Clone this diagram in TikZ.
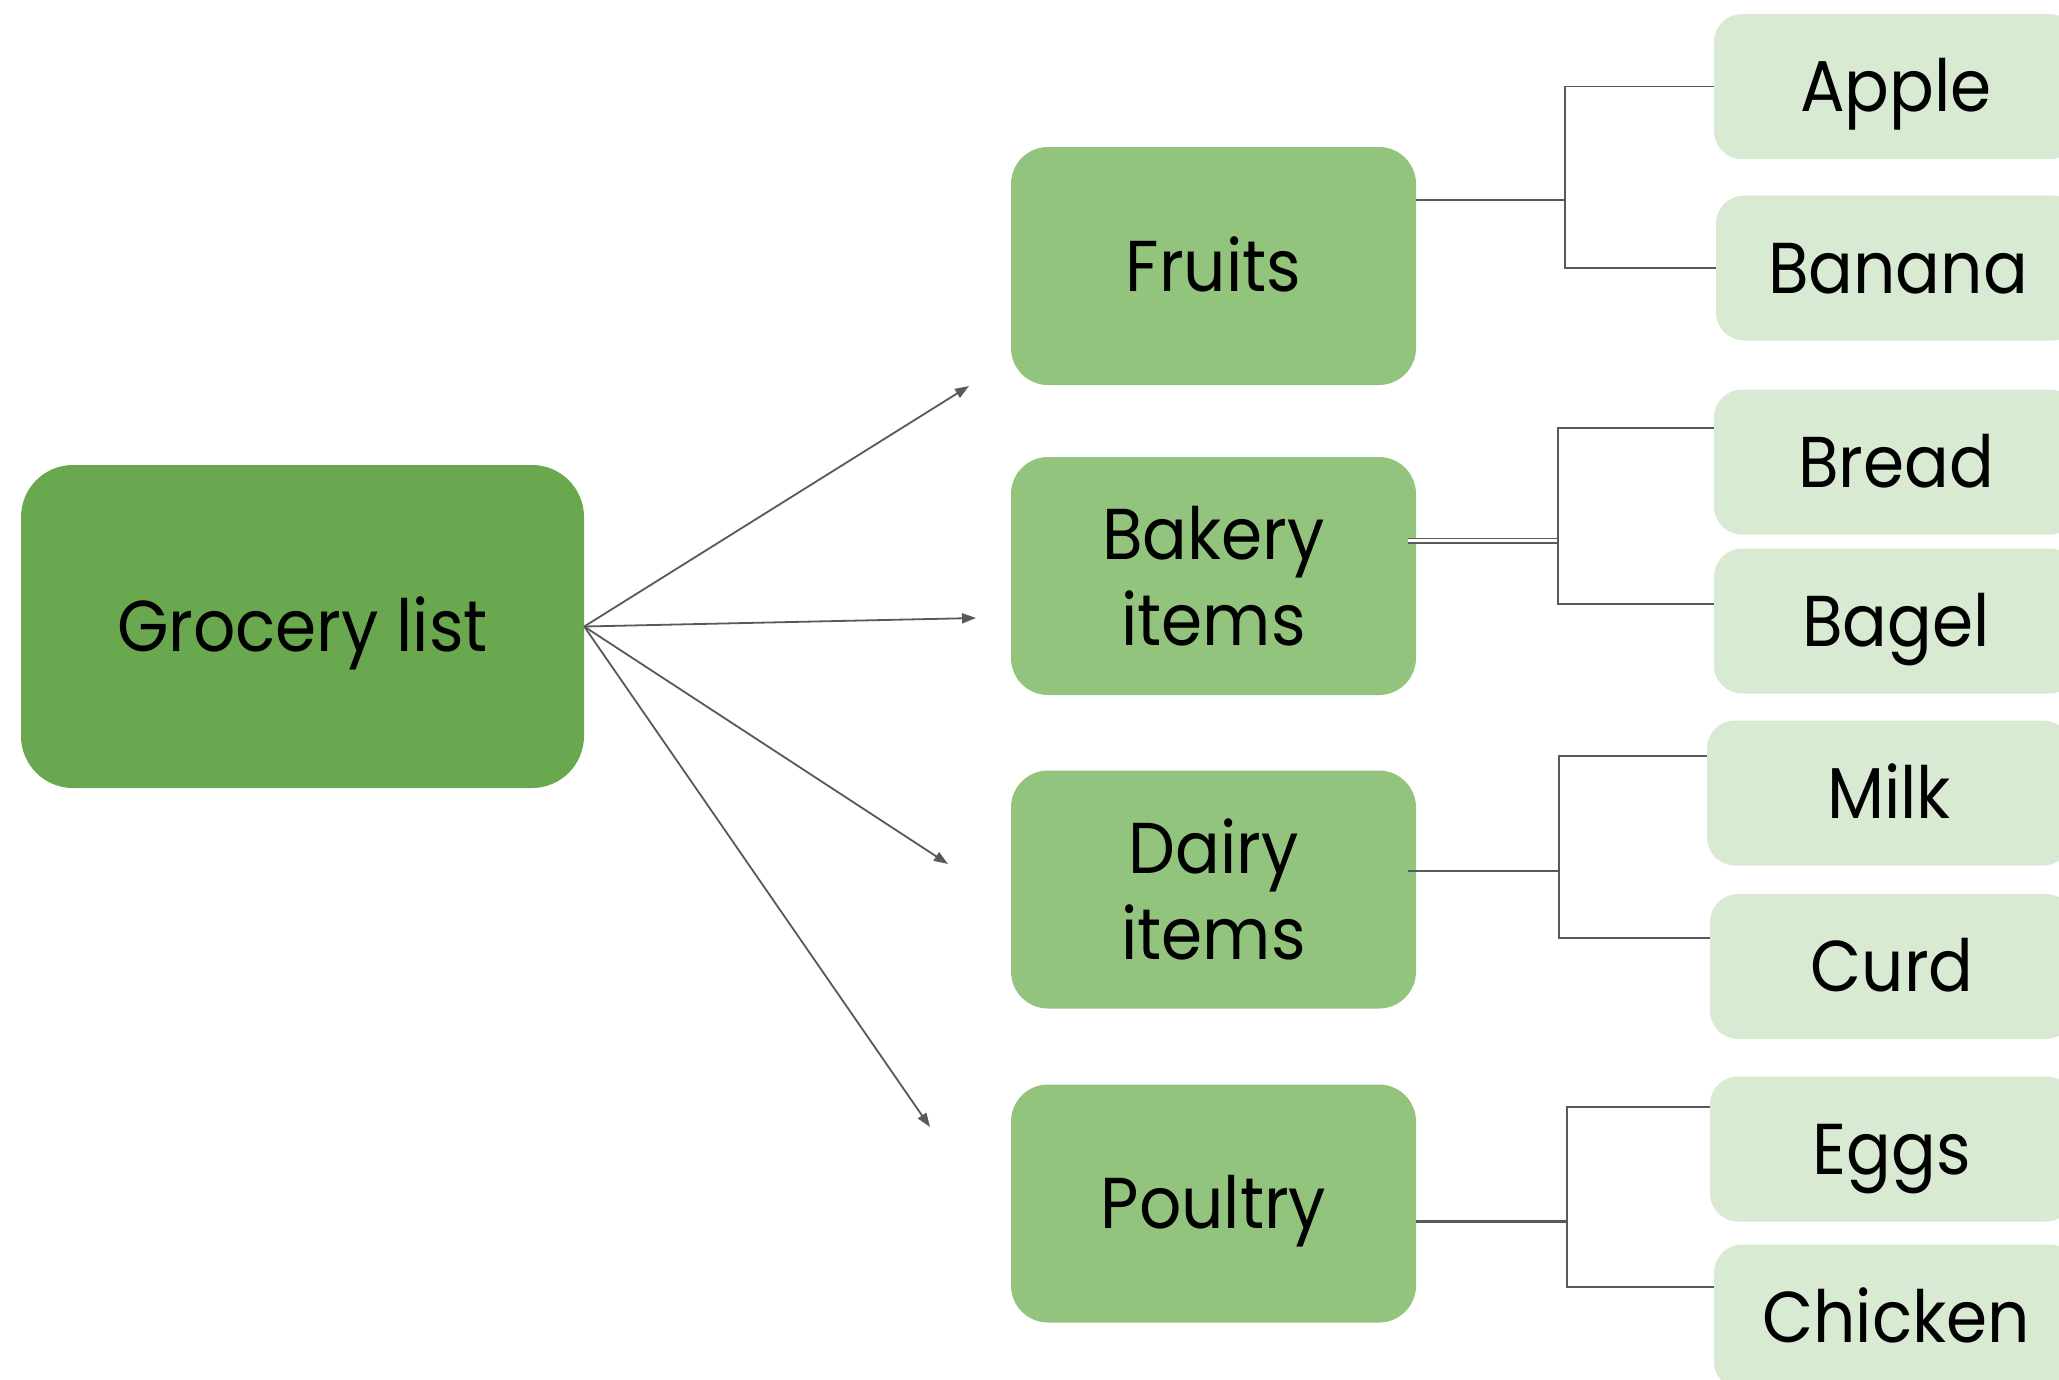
\documentclass[tikz,border=0pt]{standalone}
\usepackage{fontspec}
\setmainfont{Poppins}[FakeStretch=0.92]
\usetikzlibrary{arrows.meta}
\definecolor{gdark}{HTML}{6AA84F}
\definecolor{gmid}{HTML}{93C47D}
\definecolor{glight}{HTML}{D9EAD3}
\definecolor{wire}{HTML}{595959}

\begin{document}
\begin{tikzpicture}[x=1pt,y=-1pt,
  every node/.style={font=\fontsize{72}{86}\selectfont, text=black, inner sep=0pt},
  oneline/.style={text height=50pt, text depth=0pt},
  root/.style={fill=gdark, rounded corners=52pt, minimum width=563pt, minimum height=323pt, oneline},
  cat/.style={fill=gmid, rounded corners=37pt, minimum width=405pt, minimum height=238pt, align=center},
  leaf/.style={fill=glight, rounded corners=28pt, minimum width=364pt, minimum height=145pt, oneline},
  conn/.style={draw=wire, line width=1.6pt},
  arr/.style={draw=wire, line width=1.8pt, -{Triangle[length=14pt,width=10pt]}}
]
\useasboundingbox (0,0) rectangle (2059,1379);
\fill[white] (0,0) rectangle (2059,1379);

% root and categories
\node[root] (g) at (302.5,626.5) {Grocery list};
\node[cat, oneline] (fruits)  at (1213.5,266)    {Fruits};
\node[cat] (bakery)  at (1213.5,576)    {Bakery\\items};
\node[cat] (dairy)   at (1213.5,889.5)  {Dairy\\items};
\node[cat, oneline] (poultry) at (1213.5,1203.5) {Poultry};

% items
\node[leaf] (apple)   at (1896,86.6)  {Apple};
\node[leaf] (banana)  at (1898,268)   {Banana};
\node[leaf] (bread)   at (1896,462)   {Bread};
\node[leaf] (bagel)   at (1896,621)   {Bagel};
\node[leaf] (milk)    at (1889,793)   {Milk};
\node[leaf] (curd)    at (1892,966.5) {Curd};
\node[leaf] (eggs)    at (1892,1149)  {Eggs};
\node[leaf] (chicken) at (1896,1317)  {Chicken};

% arrows from the root
\coordinate (t1) at (969,386);
\coordinate (t2) at (976,618);
\coordinate (t3) at (948,864);
\coordinate (t4) at (930,1127);
\foreach \t in {t1,t2,t3,t4} \draw[arr] (g.east) -- (\t);

% fruits bracket
\coordinate (fj) at (1565,200);
\draw[conn] (fruits.east |- fj) -- (fj);
\draw[conn] (apple.west) -| (fj) |- (banana.west);

% bakery bracket
\coordinate (bj) at (1558,540.5);
\coordinate (b1) at (1558,428);
\coordinate (b2) at (1558,604);
\draw[conn, line width=1.4pt, double=white, double distance=3.2pt] ([xshift=-8pt]bakery.east |- bj) -- (bj);
\draw[conn] (bread.west |- b1) -- (b1) -- (b2) -- (bagel.west |- b2);

% dairy bracket
\coordinate (dj) at (1559,871);
\coordinate (d1) at (1559,756);
\coordinate (d2) at (1559,938);
\draw[conn] ([xshift=-8pt]dairy.east |- dj) -- (dj);
\draw[conn] (milk.west |- d1) -- (d1) -- (d2) -- (curd.west |- d2);

% poultry bracket
\coordinate (pj) at (1567,1221);
\coordinate (p1) at (1567,1107);
\coordinate (p2) at (1567,1287);
\draw[conn, line width=3pt] (poultry.east |- pj) -- (pj);
\draw[conn] (eggs.west |- p1) -- (p1) -- (p2) -- (chicken.west |- p2);
\end{tikzpicture}
\end{document}
